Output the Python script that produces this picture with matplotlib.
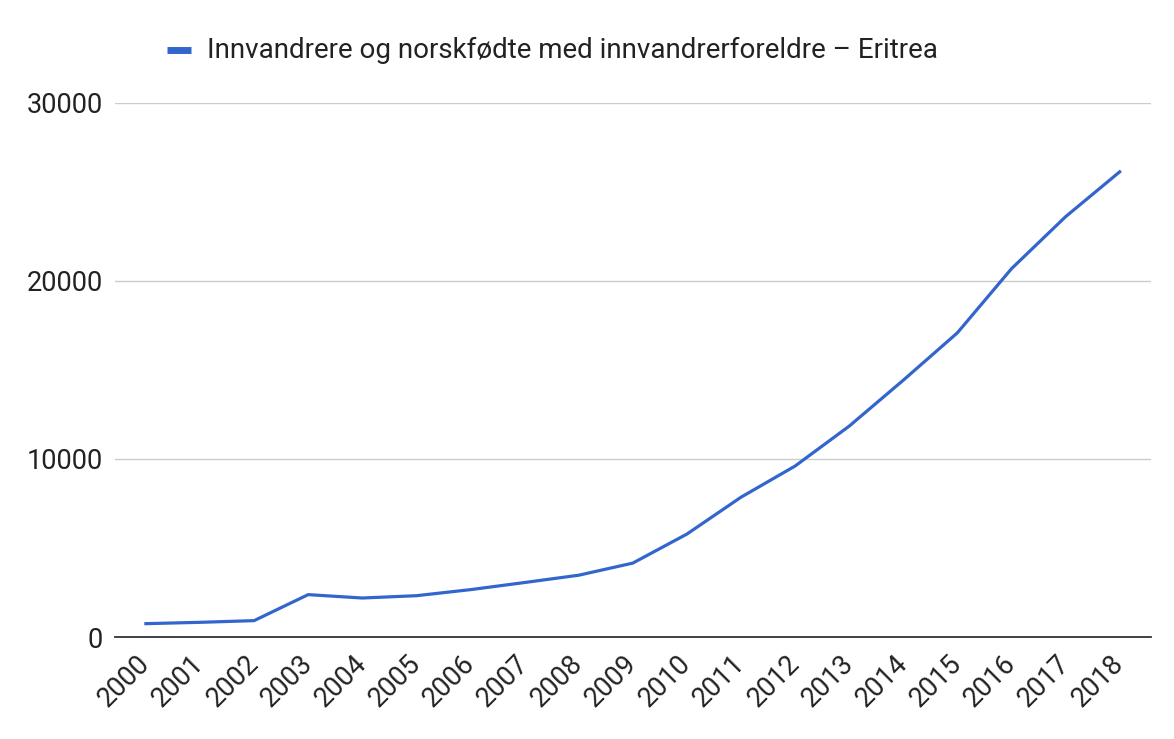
import matplotlib
matplotlib.use("Agg")
import matplotlib.pyplot as plt
from matplotlib.lines import Line2D
from matplotlib.transforms import ScaledTranslation

plt.rcParams['font.family'] = ['Roboto', 'DejaVu Sans']

years = [str(y) for y in range(2000, 2019)]
persons = [750, 825, 920, 2380, 2190, 2320, 2660, 3060, 3470, 4150,
           5780, 7850, 9600, 11840, 14420, 17080, 20680, 23600, 26120]
series_label = "Innvandrere og norskfødte med innvandrerforeldre \u2013 Eritrea"
yticks = [0, 10000, 20000, 30000]

blue = "#3366cc"
text_col = "#222222"

fig = plt.figure(figsize=(11.74, 7.39), dpi=100)
ax = fig.add_axes([0.098, 0.138, 0.882, 0.723])

xs = range(len(years))
ax.plot(xs, persons, color=blue, linewidth=2.3, solid_joinstyle="round", zorder=3)

ax.set_xlim(-0.57, len(years) - 0.43)
ax.set_ylim(0, 30000)
ax.set_yticks(yticks)
ax.set_yticklabels([str(v) for v in yticks])
ax.set_xticks(list(xs))
ax.set_xticklabels(years, rotation=45, ha="right", va="center",
                   rotation_mode="anchor")

# nudge the rotated year labels a little to the right
shift = ScaledTranslation(6 / 100, 0, fig.dpi_scale_trans)
for lbl in ax.get_xticklabels():
    lbl.set_transform(lbl.get_transform() + shift)

ax.grid(axis="y", color="#cccccc", linewidth=1)
ax.set_axisbelow(True)
for side in ["left", "right", "top"]:
    ax.spines[side].set_visible(False)
ax.spines["bottom"].set_color("#333333")
ax.spines["bottom"].set_linewidth(1.3)
ax.spines["bottom"].set_zorder(4)

ax.tick_params(axis="y", length=0, pad=9, labelsize=19.5, labelcolor=text_col)
ax.tick_params(axis="x", length=0, pad=16, labelsize=19.5, labelcolor=text_col)

# legend on top, drawn by hand like the google chart
fig.add_artist(Line2D([0.142, 0.163], [0.932, 0.932], color=blue,
                      linewidth=5, solid_capstyle="butt"))
fig.text(0.176, 0.932, series_label, fontsize=20, color=text_col,
         ha="left", va="center")

fig.savefig("out.png", dpi=100)
